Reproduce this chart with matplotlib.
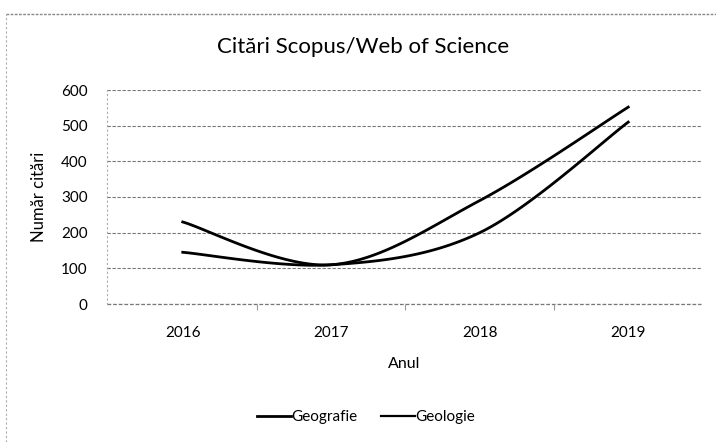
import numpy as np
import matplotlib
matplotlib.use('Agg')
from matplotlib import pyplot as plt
from matplotlib.lines import Line2D

plt.rcParams['font.family'] = ['Lato', 'DejaVu Sans']

years = [2016, 2017, 2018, 2019]
geografie = [230, 110, 290, 552]
geologie = [145, 110, 200, 510]
yticks = [0, 100, 200, 300, 400, 500, 600]


def smooth(xs, ys, n=40):
    # Excel-style smoothed line: Catmull-Rom turned into cubic Bezier segments
    p = np.column_stack([xs, ys]).astype(float)
    p_ext = np.vstack([p[0], p, p[-1]])
    out = []
    for i in range(len(p) - 1):
        p0, p1, p2, p3 = p_ext[i], p_ext[i + 1], p_ext[i + 2], p_ext[i + 3]
        c1 = p1 + (p2 - p0) / 6
        c2 = p2 - (p3 - p1) / 6
        t = np.linspace(0, 1, n)[:, None]
        seg = ((1 - t) ** 3) * p1 + 3 * ((1 - t) ** 2) * t * c1 + 3 * (1 - t) * t ** 2 * c2 + t ** 3 * p2
        out.append(seg if i == 0 else seg[1:])
    out = np.vstack(out)
    return out[:, 0], out[:, 1]


fig = plt.figure(figsize=(7.16, 4.42), dpi=100)
ax = fig.add_axes([107 / 716, 1 - 304 / 442, (701 - 107) / 716, (304 - 90) / 442])

xg, yg = smooth(years, geografie)
xl, yl = smooth(years, geologie)
ax.plot(xg, yg, color='black', lw=2.0, label='Geografie')
ax.plot(xl, yl, color='black', lw=2.0, label='Geologie')

ax.set_xlim(2015.49, 2019.49)
ax.set_ylim(0, 600)
ax.set_yticks(yticks)
ax.set_xticks(years)
ax.set_xticks([2016.5, 2017.5, 2018.5], minor=True)
ax.tick_params(axis='x', which='major', length=0, pad=16, labelsize=11)
ax.tick_params(axis='x', which='minor', length=4, color='#999999', width=0.8)
ax.tick_params(axis='y', length=0, pad=14, labelsize=11)
ax.grid(axis='y', color='#777777', lw=0.8, ls=(0, (3, 1.5)))
ax.axhline(0, color='#777777', lw=0.9, ls=(0, (3, 1.5)), clip_on=False, zorder=0)
for s in ['top', 'right', 'bottom']:
    ax.spines[s].set_visible(False)
ax.spines['left'].set_color('#aaaaaa')
ax.spines['left'].set_linestyle((0, (1, 3)))
ax.spines['left'].set_linewidth(0.8)
ax.set_axisbelow(True)

ax.set_xlabel('Anul', fontsize=11.5, labelpad=12)
ax.set_ylabel('Număr citări', fontsize=12, labelpad=10)
fig.text(363 / 716, 1 - 47 / 442, 'Citări Scopus/Web of Science', fontsize=16,
         ha='center', va='center')

handles = [Line2D([], [], color='black', lw=2.0), Line2D([], [], color='black', lw=1.6)]
fig.legend(handles, ['Geografie', 'Geologie'], loc='center', bbox_to_anchor=(366 / 716, 1 - 417 / 442),
           ncol=2, frameon=False, fontsize=11, handlelength=2.2, handletextpad=0.0, columnspacing=1.6)

# scanned page frame
fig.add_artist(Line2D([6 / 716, 1], [1 - 14 / 442, 1 - 14 / 442], color='#888888', lw=1.0,
                      ls=(0, (2, 1)), transform=fig.transFigure))
fig.add_artist(Line2D([6 / 716, 6 / 716], [0, 1 - 14 / 442], color='#aaaaaa', lw=0.8,
                      ls=(0, (2, 2)), transform=fig.transFigure))

fig.savefig('out.png', dpi=100)
